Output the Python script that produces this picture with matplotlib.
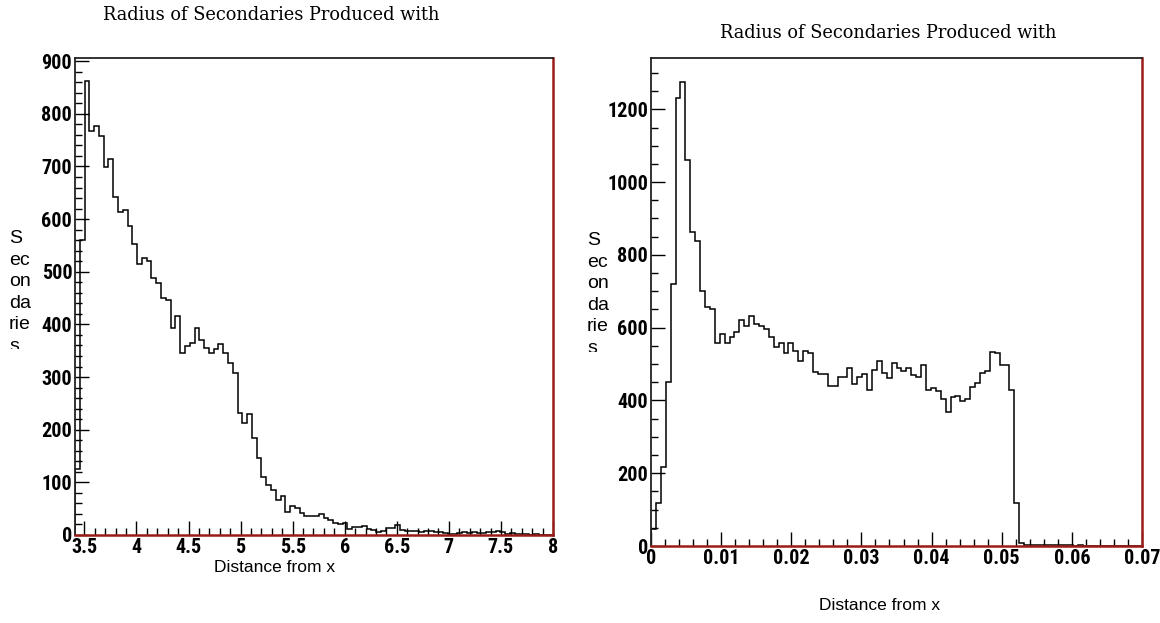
import numpy as np
import matplotlib.pyplot as plt
from matplotlib.ticker import MultipleLocator, FuncFormatter
from matplotlib.transforms import Bbox, TransformedBbox

# left histogram: 100 bins between 3.41 and 8
left_lo, left_hi = 3.41, 8.0
left_counts = [125, 560, 863, 767, 776, 757, 699, 715, 642, 613,
               618, 587, 553, 514, 527, 520, 488, 479, 450, 447,
               394, 416, 345, 359, 365, 394, 371, 356, 345, 354,
               362, 346, 327, 308, 232, 213, 230, 185, 147, 111,
               95, 85, 66, 75, 43, 55, 51, 41, 37, 37,
               37, 39, 32, 29, 23, 20, 22, 12, 16, 16,
               17, 12, 9, 6, 7, 14, 14, 19, 10, 8,
               7, 8, 5, 7, 7, 5, 6, 4, 2, 2,
               4, 5, 4, 5, 4, 3, 6, 5, 7, 5,
               2, 3, 1, 1, 1, 0, 1, 0, 0, 0]

# right histogram: 100 bins between 0 and 0.07
right_lo, right_hi = 0.0, 0.07
right_counts = [46, 117, 217, 451, 719, 1231, 1276, 1061, 864, 839,
                701, 658, 650, 557, 582, 557, 575, 587, 621, 604,
                632, 609, 605, 596, 573, 548, 557, 529, 557, 537,
                508, 537, 529, 479, 472, 474, 440, 440, 465, 465,
                488, 444, 465, 474, 428, 483, 508, 476, 462, 504,
                488, 481, 490, 471, 465, 497, 430, 433, 426, 405,
                369, 410, 413, 399, 403, 437, 447, 476, 481, 532,
                529, 497, 497, 430, 117, 8, 3, 2, 2, 3,
                2, 2, 3, 4, 2, 3, 1, 2, 1, 0,
                0, 0, 0, 0, 0, 0, 0, 0, 0, 0]

title_text = 'Radius of Secondaries Produced with'
xlabel_text = 'Distance from x'
ylabel_text = 'S\nec\non\nda\nrie\ns'

W, H = 1160, 623
TICKFONT = ['Liberation Sans Narrow', 'Roboto Condensed', 'Liberation Sans']
RED = '#9a1c16'


def px_box(x0, y0, x1, y1):
    # pixel box (top-left origin) -> figure fraction rect
    return [x0 / W, 1 - y1 / H, (x1 - x0) / W, (y1 - y0) / H]


def draw_panel(ax, counts, lo, hi, ymax, xmaj, xmin, ymaj, ymin):
    edges = np.linspace(lo, hi, len(counts) + 1)
    ax.stairs(counts, edges, color='black', lw=1.1, baseline=0)
    ax.set_xlim(lo, hi)
    ax.set_ylim(0, ymax)
    ax.xaxis.set_major_locator(MultipleLocator(xmaj))
    ax.xaxis.set_minor_locator(MultipleLocator(xmin))
    ax.yaxis.set_major_locator(MultipleLocator(ymaj))
    ax.yaxis.set_minor_locator(MultipleLocator(ymin))
    ax.xaxis.set_major_formatter(FuncFormatter(lambda v, p: '%g' % round(v, 4)))
    ax.tick_params(which='major', direction='in', length=10, width=1.0, color='black', pad=2)
    ax.tick_params(which='minor', direction='in', length=5, width=1.0, color='black')
    for lab in ax.get_xticklabels() + ax.get_yticklabels():
        lab.set_family(TICKFONT)
        lab.set_fontweight('bold')
        lab.set_fontsize(14.5)
    for s in ('top', 'left'):
        ax.spines[s].set_color('#222222')
        ax.spines[s].set_linewidth(1.3)
    for s in ('bottom', 'right'):
        ax.spines[s].set_color(RED)
        ax.spines[s].set_linewidth(1.8)


def ylabel(fig, x, y_top, y_clip):
    # the original label box cuts the last line in half
    t = fig.text(x / W, 1 - y_top / H, ylabel_text, ha='left', va='top',
                 fontsize=14, linespacing=1.35, family=['Liberation Sans', 'DejaVu Sans'])
    clip = TransformedBbox(Bbox([[0, 1 - y_clip / H], [0.6, 1.0]]), fig.transFigure)
    t.set_clip_on(True)
    t.set_clip_box(clip)


fig = plt.figure(figsize=(W / 100, H / 100), dpi=100)

ax1 = fig.add_axes(px_box(75, 58, 553, 535))
draw_panel(ax1, left_counts, left_lo, left_hi, 906, 0.5, 0.1, 100, 20)

ax2 = fig.add_axes(px_box(651, 58, 1142, 546))
draw_panel(ax2, right_counts, right_lo, right_hi, 1341, 0.01, 0.002, 200, 50)

fig.text(271 / W, 1 - 15 / H, title_text, ha='center', va='center',
         fontsize=12.8, family=['DejaVu Serif'])
fig.text(888 / W, 1 - 33 / H, title_text, ha='center', va='center',
         fontsize=12.8, family=['DejaVu Serif'])

fig.text(275 / W, 1 - 567 / H, xlabel_text, ha='center', va='center',
         fontsize=12.5, family=['Liberation Sans', 'DejaVu Sans'])
fig.text(880 / W, 1 - 605 / H, xlabel_text, ha='center', va='center',
         fontsize=12.5, family=['Liberation Sans', 'DejaVu Sans'])

ylabel(fig, 9, 230, 349)
ylabel(fig, 587, 232, 352)

fig.savefig('out.png', dpi=100)
